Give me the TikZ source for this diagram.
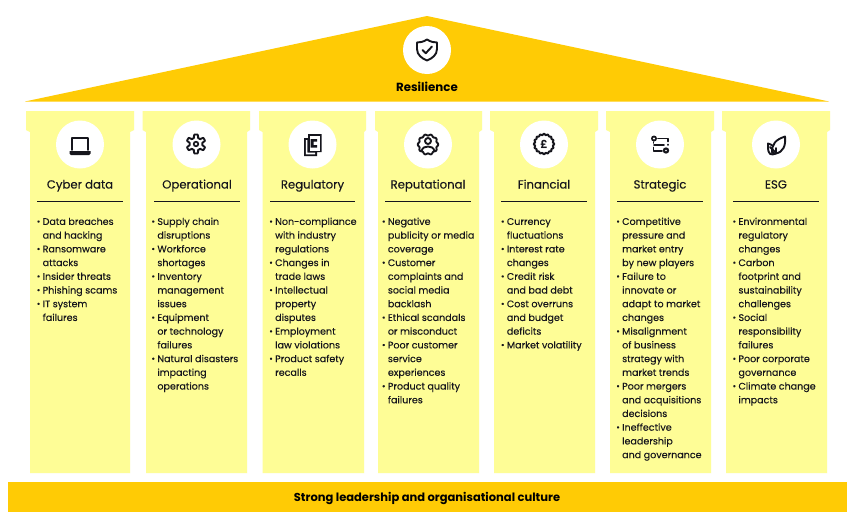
\documentclass[tikz,border=0pt]{standalone}
\usepackage{fontspec}
\setmainfont{Poppins}[FakeBold=0.12,BoldFont={Poppins Bold},BoldFeatures={FakeBold=0}]
\definecolor{roofc}{HTML}{FFCB05}
\definecolor{palec}{HTML}{FEFD96}
\definecolor{inkc}{HTML}{15151C}
\newcommand{\bl}{\rule{0pt}{8pt}\makebox[5.9pt][l]{\raisebox{0.5pt}{\fontsize{8.5}{8.5}\selectfont •}}}
\newcommand{\ct}{\hspace*{5.9pt}}
\tikzset{
  roof/.style={fill=roofc,draw=none},
  pale/.style={fill=palec,draw=none},
  disc/.style={circle,fill=white,draw=none,minimum size=48pt,inner sep=0pt},
  title/.style={font=\fontsize{11.7}{14}\selectfont,text=inkc,anchor=base,inner sep=0pt},
  head/.style={font=\fontsize{11.5}{14}\selectfont\bfseries,text=black,anchor=base,inner sep=0pt},
  items/.style={font=\fontsize{9.55}{13.72}\selectfont,text=inkc,anchor=north west,inner sep=0pt,align=left},
  rulec/.style={draw=inkc,line width=0.8pt},
  ico/.style={draw=inkc,line width=1.9pt,line join=round,line cap=round},
  icofill/.style={fill=inkc,draw=none}
}
\begin{document}
\begin{tikzpicture}[x=1pt,y=-1pt]
\useasboundingbox (0,0) rectangle (860,525);
\fill[white] (0,0) rectangle (860,525);
% roof and plinth
\fill[roof] (427,16) -- (829,101.5) -- (25,101.5) -- cycle;
\fill[roof] (8,482) rectangle (847,512);
\node[disc] (rdisc) at (427,50) {};
\node[head,font=\fontsize{11.8}{14}\selectfont\bfseries] (rtitle) at (427,91) {Resilience};
\node[head] (ptitle) at (427,501) {Strong leadership and organisational culture};
% pillars: cap left, cap right, shaft left, shaft right
\foreach \a/\b/\c/\d in {26/134/30/130,142.5/250/146/247,259/366/262.5/364,375/482/378/479,490/598/494/595,606/714/610/711,722/830/726/827}
  \fill[pale] (\a,111) -- (\b,111) -- (\b,130) -- (\d,132) -- (\d,473) -- (\c,473) -- (\c,132) -- (\a,130) -- cycle;
% discs
\node[disc] (d1) at (80,144.5) {};
\node[disc] (d2) at (196.5,144.5) {};
\node[disc] (d3) at (312.5,144.5) {};
\node[disc] (d4) at (428,144.5) {};
\node[disc] (d5) at (544,144.5) {};
\node[disc] (d6) at (660,144.5) {};
\node[disc] (d7) at (776,144.5) {};
% titles
\node[title] (t1) at (80,188.5) {Cyber data};
\node[title] (t2) at (197,188.5) {Operational};
\node[title] (t3) at (312.5,188.5) {Regulatory};
\node[title] (t4) at (428,188.5) {Reputational};
\node[title] (t5) at (544,188.5) {Financial};
\node[title] (t6) at (660,188.5) {Strategic};
\node[title] (t7) at (776,188.5) {ESG};
% rules
\draw[rulec] (37,201) -- (123,201);
\draw[rulec] (154,201) -- (240,201);
\draw[rulec] (270,201) -- (355,201);
\draw[rulec] (385,201) -- (471,201);
\draw[rulec] (501,201) -- (587,201);
\draw[rulec] (617,201) -- (703,201);
\draw[rulec] (733,201) -- (819,201);
% item lists
\node[items] (l1) at (36.6,216.7) {\bl Data breaches\\\ct and hacking\\\bl Ransomware\\\ct attacks\\\bl Insider threats\\\bl Phishing scams\\\bl IT system\\\ct failures};
\node[items] (l2) at (151.3,216.7) {\bl Supply chain\\\ct disruptions\\\bl Workforce\\\ct shortages\\\bl Inventory\\\ct management\\\ct issues\\\bl Equipment\\\ct or technology\\\ct failures\\\bl Natural disasters\\\ct impacting\\\ct operations};
\node[items] (l3) at (269.1,216.7) {\bl Non-compliance\\\ct with industry\\\ct regulations\\\bl Changes in\\\ct trade laws\\\bl Intellectual\\\ct property\\\ct disputes\\\bl Employment\\\ct law violations\\\bl Product safety\\\ct recalls};
\node[items] (l4) at (381.8,216.7) {\bl Negative\\\ct publicity or media\\\ct coverage\\\bl Customer\\\ct complaints and\\\ct social media\\\ct backlash\\\bl Ethical scandals\\\ct or misconduct\\\bl Poor customer\\\ct service\\\ct experiences\\\bl Product quality\\\ct failures};
\node[items] (l5) at (500.8,216.7) {\bl Currency\\\ct fluctuations\\\bl Interest rate\\\ct changes\\\bl Credit risk\\\ct and bad debt\\\bl Cost overruns\\\ct and budget\\\ct deficits\\\bl Market volatility};
\node[items] (l6) at (616.1,216.7) {\bl Competitive\\\ct pressure and\\\ct market entry\\\ct by new players\\\bl Failure to\\\ct innovate or\\\ct adapt to market\\\ct changes\\\bl Misalignment\\\ct of business\\\ct strategy with\\\ct market trends\\\bl Poor mergers\\\ct and acquisitions\\\ct decisions\\\bl Ineffective\\\ct leadership\\\ct and governance};
\node[items] (l7) at (732.4,216.7) {\bl Environmental\\\ct regulatory\\\ct changes\\\bl Carbon\\\ct footprint and\\\ct sustainability\\\ct challenges\\\bl Social\\\ct responsibility\\\ct failures\\\bl Poor corporate\\\ct governance\\\bl Climate change\\\ct impacts};
% shield icon
\draw[ico] (427,39.5) .. controls (431,42) and (434,42.5) .. (437,42.5) -- (437,49) .. controls (437,55) and (432,58.5) .. (427,60.5) .. controls (422,58.5) and (417,55) .. (417,49) -- (417,42.5) .. controls (420,42.5) and (423,42) .. (427,39.5) -- cycle;
\draw[ico] (422.5,50) -- (425.8,53.2) -- (432,46.5);
% laptop icon
\draw[ico] (72,150) -- (72,138) -- (88,138) -- (88,150);
\fill[inkc] (69.5,151) -- (90.5,151) -- (90.5,153.5) -- (89,155) -- (71,155) -- (69.5,153.5) -- cycle;
% gear icon
\draw[ico] plot[smooth cycle,samples=72,domain=0:355] ({196+(7.9+1.6*max(-1,min(1,2.5*cos(6*(\x+90)))))*cos(\x)},{144+(7.9+1.6*max(-1,min(1,2.5*cos(6*(\x+90)))))*sin(\x)});
\fill[inkc] (196,144) circle (3.2);
\fill[white] (196,144) circle (1.4);
% document icon
\fill[inkc] (308,134) -- (321.5,134) -- (321.5,152) -- (317,152) -- (317,156) -- (304,156) -- (304,138) -- (308,138) -- cycle;
\fill[white] (309.5,136) -- (319.5,136) -- (319.5,150.5) -- (309.5,150.5) -- cycle;
\fill[white] (305.8,140) -- (307.3,140) -- (307.3,152.5) -- (315,152.5) -- (315,154.3) -- (305.8,154.3) -- cycle;
\fill[inkc] (310.5,139) -- (317,139) -- (317,141.5) -- (313.5,141.5) -- (313.5,145) -- (317,145) -- (317,147.5) -- (310.5,147.5) -- cycle;
% reputation icon
\draw[ico] plot[smooth cycle,samples=72,domain=0:355] ({428+(9.6+0.7*cos(10*\x))*cos(\x)},{144.5+(9.6+0.7*cos(10*\x))*sin(\x)});
\draw[ico] (428,141) circle (3);
\draw[ico] (421.5,151) .. controls (422.5,147.5) and (425,146.5) .. (428,146.5) .. controls (431,146.5) and (433.5,147.5) .. (434.5,151);
% pound icon
\draw[ico] plot[smooth cycle,samples=96,domain=0:356] ({544+(9.6+0.6*cos(16*\x))*cos(\x)},{144+(9.6+0.6*cos(16*\x))*sin(\x)});
\node[font=\fontsize{11}{11}\selectfont\bfseries,text=inkc,inner sep=0pt] (pound) at (544,144) {£};
% strategic icon
\fill[inkc] (654,138.5) circle (3);
\fill[white] (654,138.5) circle (1.1);
\draw[ico] (658,138.5) -- (668,138.5) -- (668,141.5);
\draw[ico] (653.5,142) -- (653.5,143);
\draw[ico] (654,145) -- (664,145);
\draw[ico] (668,144.5) -- (668,145);
\draw[ico] (653.5,147.5) -- (653.5,151) -- (662,151);
\fill[inkc] (666,150.5) circle (3.2);
\fill[white] (666,150.5) circle (0.9);
% leaf icon
\draw[ico] (772,152.5) .. controls (772,144) and (775,140) .. (785,136.5) .. controls (786,146) and (783,152) .. (776,153.5) .. controls (775,153.5) and (773,153) .. (772,152.5) -- cycle;
\draw[ico] (776,153.5) .. controls (771,155.5) and (768,155) .. (768,146.5) -- (768,143.5) .. controls (770,144) and (772,145) .. (773,146);
\draw[ico] (770,147) -- (775,152);
\draw[ico] (776,148) -- (776,153);
\end{tikzpicture}
\end{document}
